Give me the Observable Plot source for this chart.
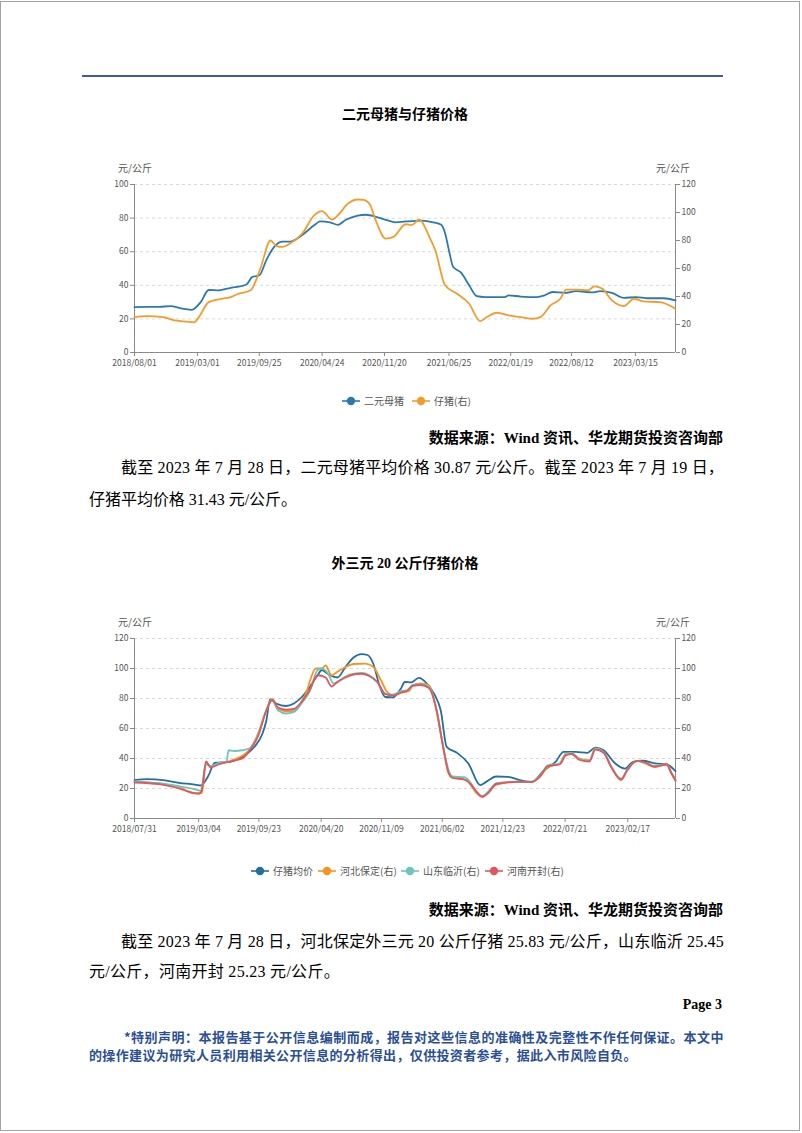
<!DOCTYPE html>
<html><head><meta charset="utf-8">
<script src="https://cdn.jsdelivr.net/npm/d3@7"></script>
<script src="https://cdn.jsdelivr.net/npm/@observablehq/plot@0.6"></script>
<style>
html,body{margin:0;padding:0;background:#fff;}
#page{position:relative;width:802px;height:1133px;overflow:hidden;background:#fff;}
#border{position:absolute;left:0;top:1px;width:800px;height:1130px;border:1px solid #a3a3a3;box-sizing:border-box;}
#rule{position:absolute;left:82px;top:75px;width:641px;height:2px;background:#4257a6;}
svg.chart{position:absolute;left:0;}
</style></head>
<body><div id="page"><div id="border"></div><div id="rule"></div></div>
<script>
// ---------- Chart 1: 二元母猪与仔猪价格 ----------
const sowDates = ["2018-08-01","2018-09-15","2018-10-23","2018-12-02","2018-12-29","2019-01-20","2019-02-10","2019-03-12","2019-04-08","2019-05-12","2019-06-21","2019-07-11","2019-08-13","2019-09-02","2019-09-26","2019-10-19","2019-11-15","2019-12-12","2020-01-07","2020-02-17","2020-03-28","2020-04-17","2020-05-20","2020-06-16","2020-07-13","2020-08-22","2020-09-18","2020-10-28","2020-11-24","2020-12-27","2021-01-30","2021-03-24","2021-05-03","2021-05-30","2021-06-12","2021-06-26","2021-07-09","2021-08-05","2021-09-01","2021-09-27","2021-10-24","2021-12-30","2022-01-12","2022-02-22","2022-04-16","2022-05-13","2022-06-09","2022-07-19","2022-08-28","2022-10-20","2022-11-16","2022-12-26","2023-02-04","2023-03-17","2023-04-26","2023-06-18","2023-07-28"];
const sowValues = [27.0,27.1,27.2,27.6,26.6,25.8,25.4,30,37.2,37,38.5,39,40.5,45,46,55,63,66,66,70,75.7,78,77.5,76,79,81.5,82,80.5,79,77.5,78,78.5,77.5,76,71,60,51,47.5,40,33.5,33,33,34,33.3,33,34,36,35.5,36.5,35.8,36.5,35.5,32.5,33,32.3,32.3,31];
const pigletDates = ["2018-08-01","2018-09-13","2018-11-05","2018-12-15","2019-01-25","2019-02-18","2019-03-06","2019-04-08","2019-05-12","2019-06-21","2019-07-18","2019-08-27","2019-09-29","2019-11-02","2019-11-22","2019-12-12","2020-01-07","2020-02-17","2020-03-28","2020-04-24","2020-05-27","2020-06-16","2020-07-20","2020-08-22","2020-09-11","2020-10-01","2020-10-21","2020-11-24","2020-12-20","2021-01-30","2021-02-19","2021-03-17","2021-04-20","2021-05-10","2021-06-12","2021-07-22","2021-09-01","2021-10-08","2021-10-31","2021-12-03","2022-01-12","2022-02-22","2022-04-03","2022-04-29","2022-06-02","2022-07-05","2022-07-25","2022-08-28","2022-10-07","2022-10-27","2022-11-23","2022-12-26","2023-02-04","2023-03-10","2023-04-12","2023-06-05","2023-07-28"];
const pigletValues = [25.3,26,25.3,22.9,22,21.5,25.3,36,38,39.6,42,44.4,60,80,76,75.4,77.8,85,98,101,95,98,106.4,109.3,109,106,94.5,81.4,82.6,91.6,91,95,82.6,73,48,42,34.8,22.4,25.3,28.4,26.5,25.3,24.1,25.3,33.6,38.4,44.9,44.9,44.4,47.2,45.6,37.2,33.2,38.4,36.5,36,31.3];
const ticks1 = ["2018-08-01","2019-03-01","2019-09-25","2020-04-24","2020-11-20","2021-06-25","2022-01-19","2022-08-12","2023-03-15"];
const leftTicks1 = [0,20,40,60,80,100];
const rightTicks1 = [0,20,40,60,80,100,120];

// ---------- Chart 2: 外三元20公斤仔猪价格 ----------
const avgDates = ["2018-07-31","2018-09-12","2018-11-04","2018-12-28","2019-02-19","2019-03-11","2019-04-07","2019-04-27","2019-06-19","2019-07-29","2019-09-08","2019-10-04","2019-10-18","2019-10-31","2019-11-20","2019-12-24","2020-01-19","2020-02-15","2020-03-13","2020-04-08","2020-04-22","2020-05-19","2020-06-14","2020-07-11","2020-08-07","2020-09-03","2020-09-23","2020-10-13","2020-11-02","2020-11-22","2020-12-18","2021-01-14","2021-01-27","2021-02-17","2021-03-15","2021-04-11","2021-05-08","2021-05-28","2021-06-17","2021-07-20","2021-08-29","2021-10-08","2021-10-28","2021-12-01","2022-01-10","2022-02-19","2022-03-31","2022-05-10","2022-06-19","2022-07-16","2022-08-25","2022-10-04","2022-10-31","2022-11-27","2023-01-06","2023-02-08","2023-03-07","2023-04-09","2023-05-19","2023-06-29","2023-07-28"];
const avgValues = [25.6,26.2,25.6,23.8,22.6,22,28.9,37,37.8,41,47.8,56,65,79.6,76.7,75,76.7,81,87.8,95.5,99,95.5,94,101,107.3,109.6,109,103,89,81,80.7,86.7,91,90.7,93.8,90,82.2,72,47.8,44,36.7,22.2,24.4,28,27.8,25.6,24.4,32,37.8,44.4,44.4,43.8,47.3,45.6,36.7,33.3,37.8,38.5,36.7,36,31.5];
const hebeiDates = ["2018-07-31","2018-10-22","2018-12-28","2019-02-19","2019-03-15","2019-03-29","2019-04-14","2019-05-10","2019-06-19","2019-07-16","2019-08-25","2019-09-21","2019-10-18","2019-11-07","2019-11-27","2019-12-24","2020-01-19","2020-02-02","2020-02-28","2020-04-02","2020-04-22","2020-05-05","2020-05-25","2020-06-14","2020-07-11","2020-08-07","2020-09-16","2020-10-13","2020-11-08","2020-11-28","2020-12-18","2021-01-14","2021-02-10","2021-02-23","2021-03-22","2021-04-18","2021-05-14","2021-06-03","2021-06-24","2021-07-07","2021-08-03","2021-08-29","2021-09-25","2021-10-15","2021-11-04","2021-12-01","2022-02-06","2022-03-31","2022-04-27","2022-05-24","2022-07-03","2022-07-23","2022-08-12","2022-09-08","2022-10-11","2022-10-31","2022-11-27","2022-12-24","2023-01-26","2023-02-15","2023-03-20","2023-04-16","2023-05-19","2023-06-29","2023-07-12","2023-07-28"];
const hebeiValues = [24.4,23.3,20.7,16.7,17,37,34.5,36.5,38.5,40.5,46.5,57,72,79.5,73,71.5,71.5,74.4,83.3,100,100,102,95.5,97.8,101,103,103.3,101,92,84.4,82.2,83.8,85,88.9,90,88.9,72,50,30,27.5,26.7,24.4,17,14.4,17.5,22.5,24.4,24.4,27.8,34.4,36.7,43.3,43.3,40,38.9,46.7,44.4,34.4,25.6,32.2,38.4,36.7,34.4,36.5,31,25.8];
const shandongDates = ["2018-07-31","2018-10-22","2018-12-28","2019-02-19","2019-03-11","2019-03-29","2019-04-14","2019-05-10","2019-06-06","2019-06-13","2019-07-03","2019-07-29","2019-08-25","2019-09-21","2019-10-18","2019-11-07","2019-11-27","2019-12-24","2020-01-19","2020-02-15","2020-03-13","2020-04-08","2020-04-22","2020-05-12","2020-06-01","2020-06-28","2020-07-24","2020-09-03","2020-09-29","2020-10-26","2020-11-22","2020-12-18","2021-01-14","2021-02-03","2021-02-23","2021-03-22","2021-04-18","2021-05-14","2021-06-03","2021-06-24","2021-07-07","2021-08-16","2021-09-05","2021-09-25","2021-10-15","2021-11-04","2021-12-01","2022-02-06","2022-03-31","2022-04-27","2022-05-24","2022-07-03","2022-07-23","2022-08-12","2022-09-08","2022-10-11","2022-10-31","2022-11-27","2022-12-24","2023-01-26","2023-02-15","2023-03-20","2023-04-16","2023-05-19","2023-06-29","2023-07-12","2023-07-28"];
const shandongValues = [24.8,23.5,21.5,19.5,18.5,36,35,37,38,45.5,45,45.5,47,56,72,79,72,70,71,77,85,99,100,97,90,93,96,97,95.5,91,83,82.5,85,85.5,89,89.5,88,72,50,32,28,27.5,24,18,15,18,23.5,24.5,24.5,28.5,35.5,36.5,43,43.5,39.5,38.5,46.5,44.5,34.5,26.5,32.5,38.4,37,35,36,31.5,25.5];
const henanDates = ["2018-07-31","2018-10-22","2018-12-28","2019-02-06","2019-03-05","2019-03-15","2019-03-29","2019-04-14","2019-05-10","2019-06-19","2019-07-09","2019-07-29","2019-08-25","2019-09-21","2019-10-18","2019-11-07","2019-11-27","2019-12-24","2020-01-19","2020-02-15","2020-03-13","2020-04-08","2020-05-05","2020-05-25","2020-06-14","2020-07-11","2020-08-07","2020-09-03","2020-09-29","2020-10-26","2020-11-22","2020-12-18","2021-01-14","2021-02-03","2021-02-23","2021-03-22","2021-04-18","2021-05-14","2021-06-03","2021-06-24","2021-07-07","2021-08-16","2021-09-05","2021-09-25","2021-10-15","2021-11-04","2021-12-01","2022-02-06","2022-03-31","2022-04-27","2022-05-24","2022-07-03","2022-07-23","2022-08-12","2022-09-08","2022-10-11","2022-10-31","2022-11-27","2022-12-24","2023-01-26","2023-02-15","2023-03-20","2023-04-16","2023-05-19","2023-06-29","2023-07-12","2023-07-28"];
const henanValues = [24,22.9,20,17.5,16.5,19,38,34,36,38,39,40,46,55,72,79,74,72.5,73,78,86,95.5,94,88,91,94,96,96.5,95,91,83,82,84,85,88.5,89,87,72,50,30,27,26,23,18,14.5,17,23,24.4,24.4,28,35,36,42,43,39,38,46,44,34,26,32,38.4,37.5,34.5,36,31,25.2];
const ticks2 = ["2018-07-31","2019-03-04","2019-09-23","2020-04-20","2020-11-09","2021-06-02","2021-12-23","2022-07-21","2023-02-17"];
const yTicks2 = [0,20,40,60,80,100,120];

const seriesNames1 = ["二元母猪","仔猪(右)"];
const seriesNames2 = ["仔猪均价","河北保定(右)","山东临沂(右)","河南开封(右)"];
const colors1 = ["#2b7aab","#f39c2b"];
const colors2 = ["#21709f","#f7941d","#6ac7bf","#e2575d"];

// ---------- helpers ----------
const parse = d3.utcParse("%Y-%m-%d");
const fmt = d3.utcFormat("%Y/%m/%d");
const rows = (dates, values) => dates.map((d, i) => ({date: parse(d), value: values[i]}));
const page = document.getElementById("page");
const SERIF = '"Liberation Serif","Noto Sans CJK SC",serif';
const SANS = '"Noto Sans CJK SC",sans-serif';

function txt(s, o) {
  const el = document.createElement("div");
  el.textContent = s;
  Object.assign(el.style, {position: "absolute", whiteSpace: "nowrap", fontSize: o.size + "px",
    fontWeight: o.weight || "normal", color: o.color || "#000", fontFamily: o.family || SERIF,
    lineHeight: "1.2", left: "0px", top: "0px"});
  page.appendChild(el);
  if (o.width) {
    const w0 = el.getBoundingClientRect().width;
    const n = [...s].length;
    el.style.letterSpacing = ((o.width - w0) / n) + "px";
  }
  const r = el.getBoundingClientRect();
  let left = o.x;
  if (o.align === "right") left = o.x - r.width;
  else if (o.align === "center") left = o.x - r.width / 2;
  el.style.left = left + "px";
  el.style.top = (o.y - r.height / 2) + "px";
  return el;
}
function legendItem(label, color, cx, cy) {
  const ns = "http://www.w3.org/2000/svg";
  const svg = document.createElementNS(ns, "svg");
  svg.setAttribute("width", 22); svg.setAttribute("height", 12);
  Object.assign(svg.style, {position: "absolute", left: (cx - 11) + "px", top: (cy - 6) + "px"});
  svg.innerHTML = `<line x1="2" y1="6" x2="20" y2="6" stroke="${color}" stroke-width="1.6"/><circle cx="11" cy="6" r="4.2" fill="${color}"/>`;
  page.appendChild(svg);
  txt(label, {x: cx + 13, y: cy, size: 10, family: SANS, color: "#555"});
}
const axisOpts = {tickSize: 4, tickPadding: 2, stroke: "#8a8a8a", fill: "#555", label: null};
const xAxisOpts = {...axisOpts, tickPadding: 3};

// ---------- page texts ----------
txt("二元母猪与仔猪价格", {x: 405, y: 113, size: 14, weight: "bold", family: SANS, align: "center"});
txt("元/公斤", {x: 118, y: 168, size: 10, family: SANS, color: "#555"});
txt("元/公斤", {x: 690, y: 168, size: 10, family: SANS, color: "#555", align: "right"});

// Chart 1
const sow = rows(sowDates, sowValues);
const piglet = rows(pigletDates, pigletValues);
const d1 = [parse("2018-08-01"), parse("2023-07-28")];
const chart1 = Plot.plot({
  width: 802, height: 217,
  marginLeft: 134, marginRight: 127, marginTop: 24, marginBottom: 25,
  x: {type: "utc", domain: d1, label: null},
  y: {domain: [0, 100], label: null},
  style: {fontFamily: SANS, fontSize: "8.5px", color: "#555", background: "transparent", overflow: "visible"},
  marks: [
    Plot.ruleY(leftTicks1.slice(1), {stroke: "#d9d9d9", strokeDasharray: "3,3"}),
    Plot.ruleY([0], {stroke: "#8a8a8a"}),
    Plot.ruleX(d1, {stroke: "#8a8a8a"}),
    Plot.axisX({...xAxisOpts, ticks: ticks1.map(parse), tickFormat: fmt}),
    Plot.axisY({...axisOpts, anchor: "left", ticks: leftTicks1}),
    Plot.axisY({...axisOpts, anchor: "right", ticks: rightTicks1.map(v => v * 100 / 120), tickFormat: d => Math.round(d * 1.2)}),
    Plot.line(sow, {x: "date", y: "value", stroke: colors1[0], strokeWidth: 1.8, curve: "monotone-x"}),
    Plot.line(piglet, {x: "date", y: d => d.value * 100 / 120, stroke: colors1[1], strokeWidth: 1.8, curve: "monotone-x"})
  ]
});
chart1.classList.add("chart");
chart1.style.top = "160px";
page.appendChild(chart1);

legendItem(seriesNames1[0], colors1[0], 351, 401);
legendItem(seriesNames1[1], colors1[1], 421, 401);

txt("数据来源：Wind 资讯、华龙期货投资咨询部", {x: 723, y: 438, size: 15, weight: "bold", align: "right"});
txt("截至 2023 年 7 月 28 日，二元母猪平均价格 30.87 元/公斤。截至 2023 年 7 月 19 日，", {x: 121, y: 468, size: 16, width: 603});
txt("仔猪平均价格 31.43 元/公斤。", {x: 89, y: 500, size: 16, width: 208});

// Chart 2
txt("外三元 20 公斤仔猪价格", {x: 405, y: 564, size: 14, weight: "bold", family: '"Liberation Serif","Noto Sans CJK SC",sans-serif', align: "center"});
txt("元/公斤", {x: 118, y: 622, size: 10, family: SANS, color: "#555"});
txt("元/公斤", {x: 690, y: 622, size: 10, family: SANS, color: "#555", align: "right"});

const d2 = [parse("2018-07-31"), parse("2023-07-28")];
const chart2 = Plot.plot({
  width: 802, height: 233,
  marginLeft: 134, marginRight: 127, marginTop: 28, marginBottom: 25,
  x: {type: "utc", domain: d2, label: null},
  y: {domain: [0, 120], label: null},
  style: {fontFamily: SANS, fontSize: "8.5px", color: "#555", background: "transparent", overflow: "visible"},
  marks: [
    Plot.ruleY(yTicks2.slice(1), {stroke: "#d9d9d9", strokeDasharray: "3,3"}),
    Plot.ruleY([0], {stroke: "#8a8a8a"}),
    Plot.ruleX(d2, {stroke: "#8a8a8a"}),
    Plot.axisX({...xAxisOpts, ticks: ticks2.map(parse), tickFormat: fmt}),
    Plot.axisY({...axisOpts, anchor: "left", ticks: yTicks2}),
    Plot.axisY({...axisOpts, anchor: "right", ticks: yTicks2}),
    Plot.line(rows(avgDates, avgValues), {x: "date", y: "value", stroke: colors2[0], strokeWidth: 1.8, curve: "monotone-x"}),
    Plot.line(rows(hebeiDates, hebeiValues), {x: "date", y: "value", stroke: colors2[1], strokeWidth: 1.8, curve: "monotone-x"}),
    Plot.line(rows(shandongDates, shandongValues), {x: "date", y: "value", stroke: colors2[2], strokeWidth: 1.8, curve: "monotone-x"}),
    Plot.line(rows(henanDates, henanValues), {x: "date", y: "value", stroke: colors2[3], strokeWidth: 1.8, curve: "monotone-x"})
  ]
});
chart2.classList.add("chart");
chart2.style.top = "610px";
page.appendChild(chart2);

[260, 327, 410, 494].forEach((cx, i) => legendItem(seriesNames2[i], colors2[i], cx, 871));

txt("数据来源：Wind 资讯、华龙期货投资咨询部", {x: 723, y: 910, size: 15, weight: "bold", align: "right"});
txt("截至 2023 年 7 月 28 日，河北保定外三元 20 公斤仔猪 25.83 元/公斤，山东临沂 25.45", {x: 121, y: 942, size: 16, width: 603});
txt("元/公斤，河南开封 25.23 元/公斤。", {x: 89, y: 972, size: 16, width: 251});
txt("Page 3", {x: 722, y: 1005, size: 14, weight: "bold", align: "right"});
txt("*特别声明：本报告基于公开信息编制而成，报告对这些信息的准确性及完整性不作任何保证。本文中", {x: 124, y: 1037, size: 13, weight: "bold", color: "#2b4f96", family: SANS, width: 600});
txt("的操作建议为研究人员利用相关公开信息的分析得出，仅供投资者参考，据此入市风险自负。", {x: 89, y: 1055, size: 13, weight: "bold", color: "#2b4f96", family: SANS, width: 548});
</script>
</body></html>
